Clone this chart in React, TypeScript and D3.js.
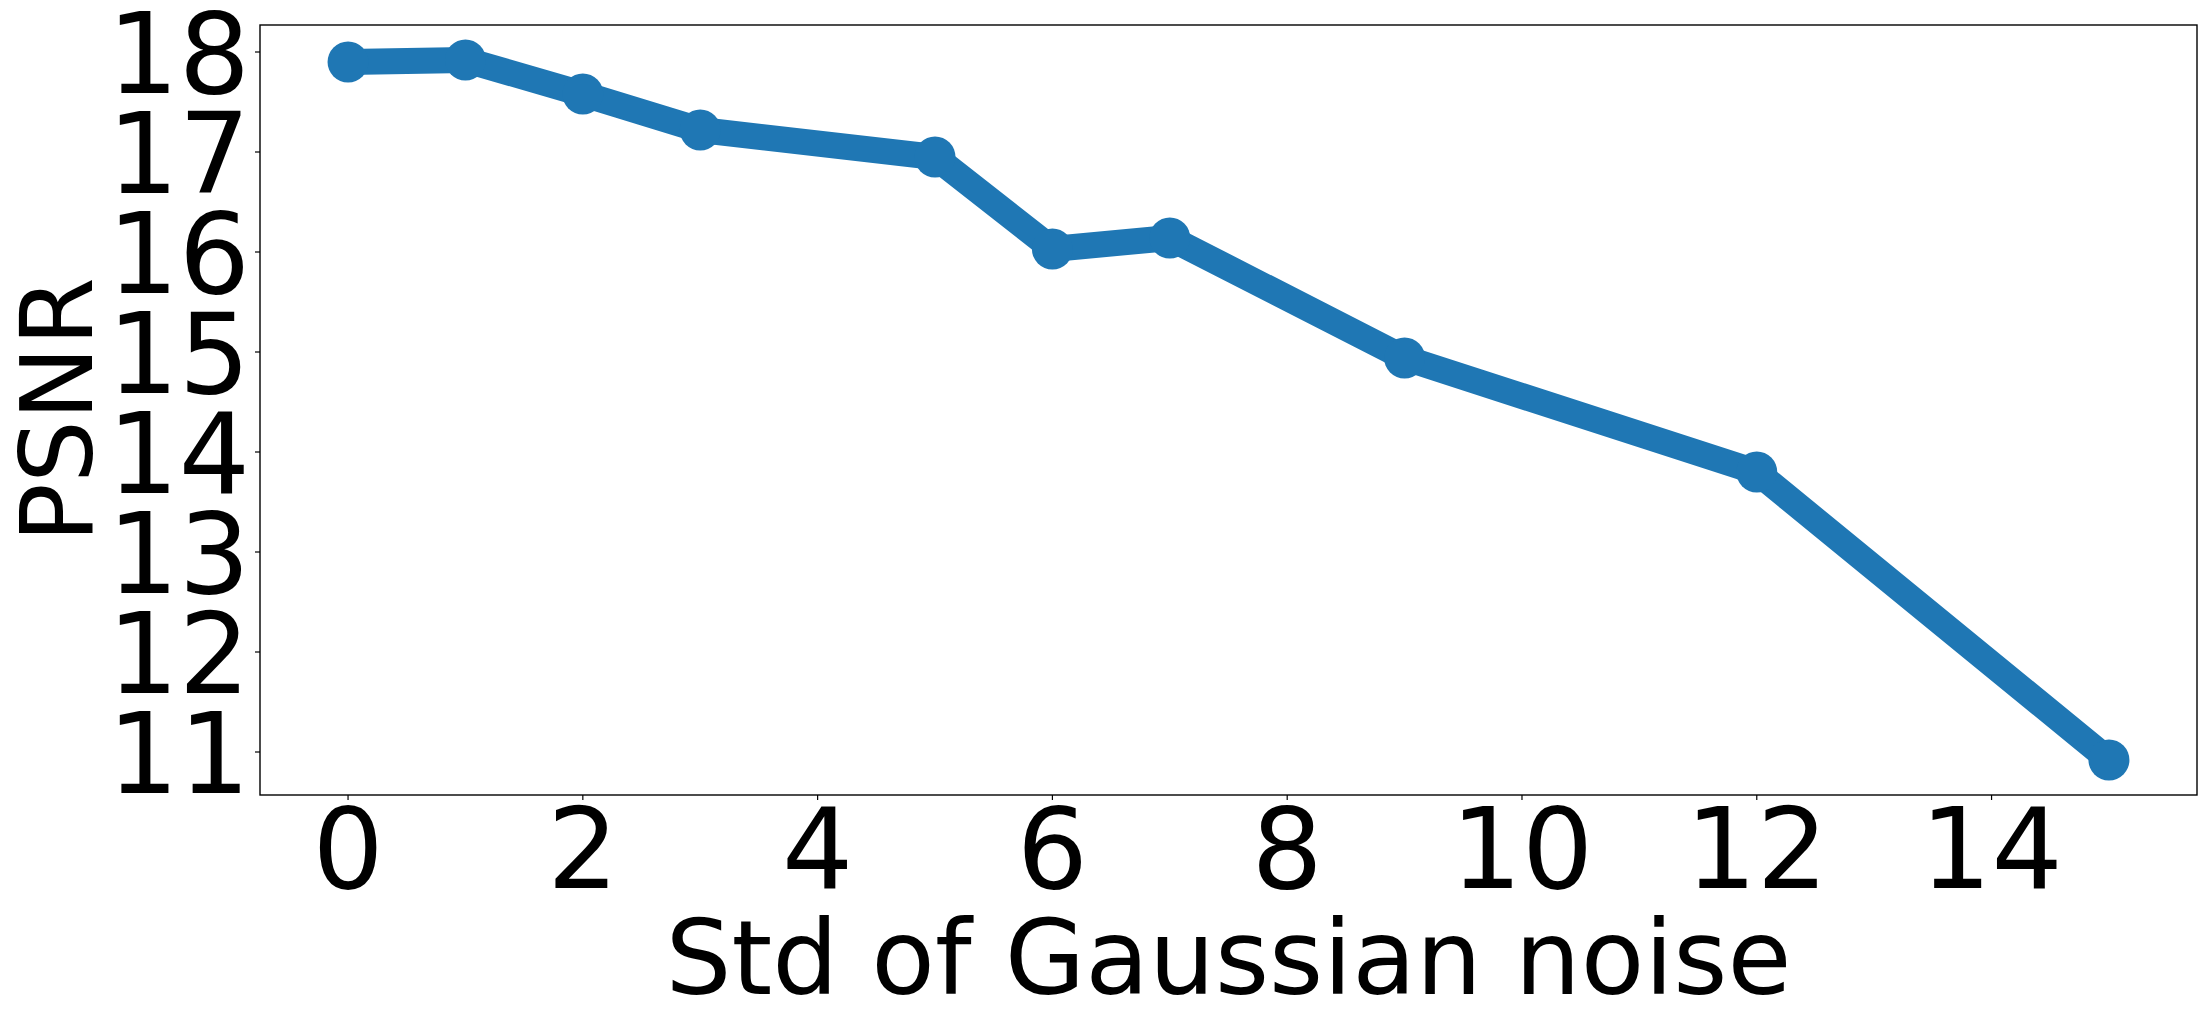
import React from "react";
import * as d3 from "d3";

// noise std values and the PSNR measured at each one
const noiseStd = [0, 1, 2, 3, 5, 6, 7, 9, 12, 15];
const psnr = [17.9, 17.92, 17.58, 17.22, 16.95, 16.03, 16.14, 14.94, 13.8, 10.92];
const xTicks = [0, 2, 4, 6, 8, 10, 12, 14];
const yTicks = [11, 12, 13, 14, 15, 16, 17, 18];

const W = 2207;
const H = 1028;
const plot = { left: 260, right: 2197, top: 25, bottom: 795 };
const blue = "#1f77b4";
const font = "DejaVu Sans";

// matplotlib style 5% padding around the data
function padded(values: number[]): [number, number] {
  const [lo, hi] = d3.extent(values) as [number, number];
  const m = (hi - lo) * 0.05;
  return [lo - m, hi + m];
}

export default function App() {
  const x = d3.scaleLinear().domain(padded(noiseStd)).range([plot.left, plot.right]);
  const y = d3.scaleLinear().domain(padded(psnr)).range([plot.bottom, plot.top]);

  const pts = noiseStd.map((d, i) => [d, psnr[i]] as [number, number]);
  const line = d3
    .line<[number, number]>()
    .x((d) => x(d[0]))
    .y((d) => y(d[1]));

  const cx = (plot.left + plot.right) / 2;
  const cy = (plot.top + plot.bottom) / 2;

  return (
    <svg
      width={W}
      height={H}
      style={{ position: "absolute", left: 0, top: 0, background: "#fff" }}
      fontFamily={font}
    >
      <rect x={0} y={0} width={W} height={H} fill="#fff" />

      {/* series */}
      <path d={line(pts) ?? ""} fill="none" stroke={blue} strokeWidth={26} strokeLinejoin="round" />
      {pts.map((p, i) => (
        <circle key={i} cx={x(p[0])} cy={y(p[1])} r={20.5} fill={blue} />
      ))}

      {/* frame */}
      <rect
        x={plot.left}
        y={plot.top}
        width={plot.right - plot.left}
        height={plot.bottom - plot.top}
        fill="none"
        stroke="#000"
        strokeWidth={1.4}
      />

      {/* y axis */}
      {yTicks.map((t) => (
        <g key={"y" + t}>
          <line x1={plot.left - 5} x2={plot.left} y1={y(t)} y2={y(t)} stroke="#000" strokeWidth={1.2} />
          <text x={250} y={y(t) + 40.8} textAnchor="end" fontSize={112} fill="#000">
            {t}
          </text>
        </g>
      ))}

      {/* x axis */}
      {xTicks.map((t) => (
        <g key={"x" + t}>
          <line x1={x(t)} x2={x(t)} y1={plot.bottom} y2={plot.bottom + 5} stroke="#000" strokeWidth={1.2} />
          <text x={x(t)} y={888} textAnchor="middle" fontSize={112} fill="#000">
            {t}
          </text>
        </g>
      ))}

      <text x={cx} y={994} textAnchor="middle" fontSize={104} fill="#000">
        Std of Gaussian noise
      </text>
      <text
        transform={`translate(92,${cy}) rotate(-90)`}
        textAnchor="middle"
        fontSize={99}
        fill="#000"
      >
        PSNR
      </text>
    </svg>
  );
}
